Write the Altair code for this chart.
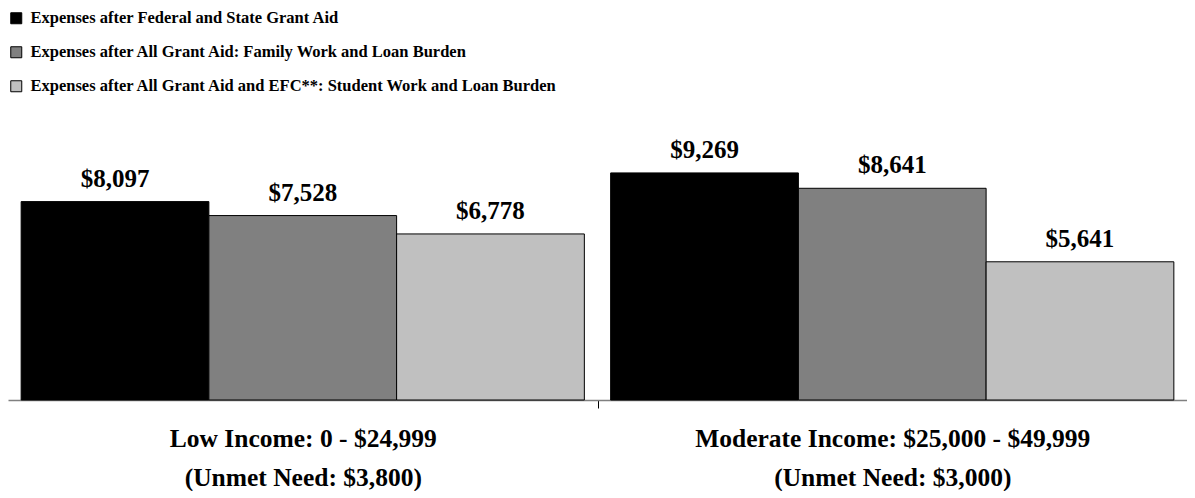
import altair as alt
import pandas as pd

categories = [
    "Low Income: 0 - $24,999\n(Unmet Need: $3,800)",
    "Moderate Income: $25,000 - $49,999\n(Unmet Need: $3,000)",
]
series = [
    "Expenses after Federal and State Grant Aid",
    "Expenses after All Grant Aid: Family Work and Loan Burden",
    "Expenses after All Grant Aid and EFC**: Student Work and Loan Burden",
]
low_income_values = [8097, 7528, 6778]
moderate_income_values = [9269, 8641, 5641]
colors = ["#000000", "#808080", "#C0C0C0"]

rows = []
for cat, vals in zip(categories, [low_income_values, moderate_income_values]):
    for i, (s, v) in enumerate(zip(series, vals)):
        rows.append({"category": cat, "series": s, "order": i, "value": v,
                     "label": "${:,}".format(v)})
df = pd.DataFrame(rows)

FONT = "Liberation Serif"

x_enc = alt.X("category:N", sort=categories, title=None,
              scale=alt.Scale(paddingInner=0, paddingOuter=0),
              axis=alt.Axis(labelExpr="split(datum.label, '\\n')", labelAngle=0,
                            labelFont=FONT, labelFontSize=25.5, labelFontWeight="bold",
                            labelColor="black", labelLineHeight=39, labelPadding=18,
                            labelLimit=1000,
                            domainColor="#808080", domainWidth=1.5,
                            tickBand="extent", tickColor="black", tickSize=8,
                            tickWidth=1,
                            tickOpacity={"condition": {"test": "datum.extra || datum.index == 1",
                                                       "value": 0}, "value": 1}))
xoff_enc = alt.XOffset("series:N", sort=series,
                       scale=alt.Scale(paddingInner=0, paddingOuter=0.07))
y_enc = alt.Y("value:Q", scale=alt.Scale(domain=[0, 10000]), axis=None)

bars = alt.Chart(df).mark_bar(stroke="black", strokeWidth=1).encode(
    x=x_enc,
    xOffset=xoff_enc,
    y=y_enc,
    color=alt.Color("series:N", sort=series,
                    scale=alt.Scale(domain=series, range=colors),
                    legend=alt.Legend(title=None, orient="none", legendX=0, legendY=-145,
                                      direction="vertical", symbolType="square",
                                      symbolSize=121, symbolStrokeColor="black",
                                      symbolStrokeWidth=1, labelFont=FONT,
                                      labelFontSize=16.5, labelFontWeight="bold",
                                      labelColor="black", rowPadding=17,
                                      labelOffset=6, padding=0,
                                      labelLimit=800)),
)

labels = alt.Chart(df).mark_text(font=FONT, fontSize=25, fontWeight="bold",
                                 color="black", dy=-23, baseline="middle").encode(
    x=alt.X("category:N", sort=categories),
    xOffset=xoff_enc,
    y=y_enc,
    text="label:N",
)

chart = alt.layer(bars, labels).properties(
    width=1179, height=245,
    padding={"left": 0, "right": 0, "top": 2, "bottom": 0},
).configure_view(stroke=None)

chart.save("out.html", embed_options={"renderer": "svg", "actions": False})
